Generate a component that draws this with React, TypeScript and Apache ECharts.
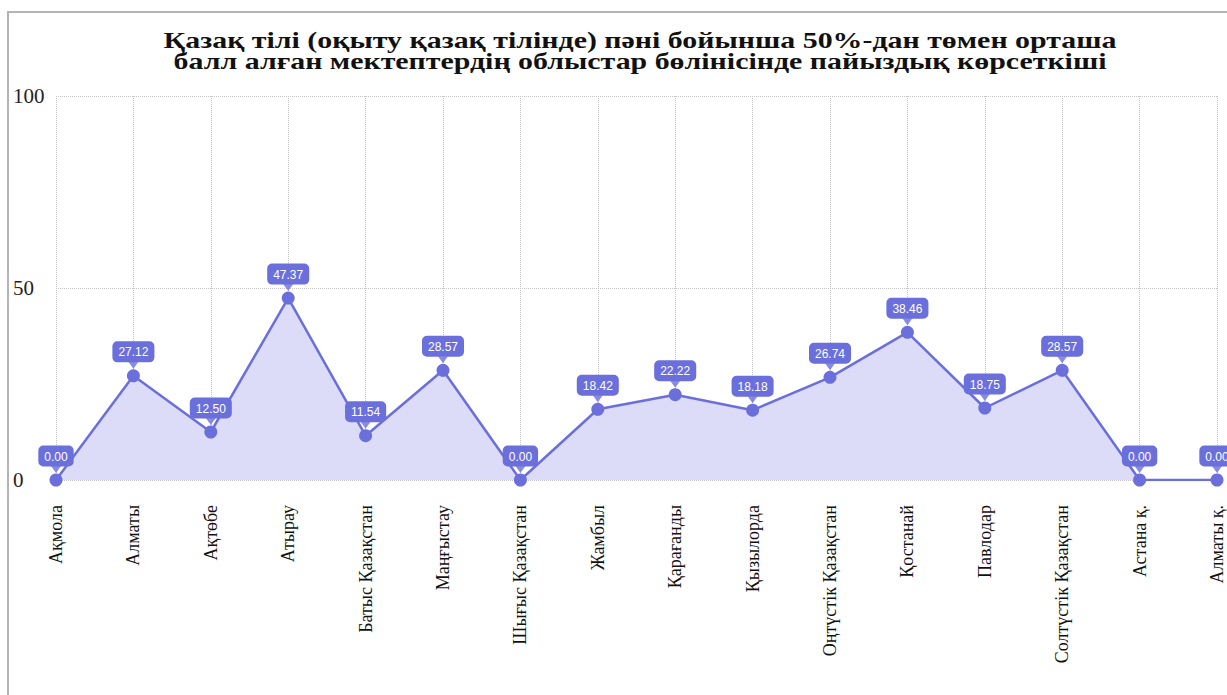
import React, { useEffect, useRef } from "react";
import * as echarts from "echarts";

const titleLines = [
  "Қазақ тілі (оқыту қазақ тілінде) пәні бойынша 50%-дан төмен орташа",
  "балл алған мектептердің облыстар бөлінісінде пайыздық көрсеткіші",
];
const categories = [
  "Ақмола",
  "Алматы",
  "Ақтөбе",
  "Атырау",
  "Батыс Қазақстан",
  "Маңғыстау",
  "Шығыс Қазақстан",
  "Жамбыл",
  "Қарағанды",
  "Қызылорда",
  "Оңтүстік Қазақстан",
  "Қостанай",
  "Павлодар",
  "Солтүстік Қазақстан",
  "Астана қ.",
  "Алматы қ.",
];
const values = [0, 27.12, 12.5, 47.37, 11.54, 28.57, 0, 18.42, 22.22, 18.18, 26.74, 38.46, 18.75, 28.57, 0, 0];
const yTicks = { min: 0, max: 100, interval: 50 };

const PURPLE = "#6b6fdc";
const SERIF = "'Liberation Serif', 'DejaVu Serif', serif";

export default function App() {
  const ref = useRef<HTMLDivElement>(null);
  useEffect(() => {
    document.body.style.margin = "0";
    document.body.style.overflow = "hidden";
    const chart = echarts.init(ref.current!, null, { renderer: "svg" });
    chart.setOption({
      animation: false,
      backgroundColor: "#ffffff",
      graphic: [
        {
          type: "rect",
          shape: { x: 8, y: 12, width: 1240, height: 700 },
          style: { fill: "none", stroke: "#b4b4b4", lineWidth: 2 },
          silent: true,
        },
        {
          type: "text",
          x: 640,
          y: 30,
          scaleX: 1.3,
          silent: true,
          style: {
            text: titleLines.join("\n"),
            align: "center",
            verticalAlign: "top",
            font: "bold 23px 'Liberation Serif', 'DejaVu Serif', serif",
            lineHeight: 21,
            fill: "#111",
          },
        },
      ],
      grid: { left: 56, right: 10, top: 96, bottom: 215, containLabel: false },
      xAxis: {
        type: "category",
        data: categories,
        boundaryGap: false,
        axisLine: { show: false },
        axisTick: { show: false },
        axisLabel: {
          rotate: 90,
          interval: 0,
          margin: 25,
          fontFamily: SERIF,
          fontSize: 18,
          color: "#111",
        },
        splitLine: { show: true, lineStyle: { type: "dotted", color: "#c4c4c4", width: 1 } },
      },
      yAxis: {
        type: "value",
        min: yTicks.min,
        max: yTicks.max,
        interval: yTicks.interval,
        axisLine: { show: false },
        axisTick: { show: false },
        axisLabel: {
          margin: 43,
          align: "left",
          fontFamily: SERIF,
          fontSize: 21,
          color: "#222",
        },
        splitLine: { show: true, lineStyle: { type: "dotted", color: "#c4c4c4", width: 1 } },
      },
      series: [
        {
          type: "line",
          data: values,
          symbol: "circle",
          symbolSize: 13,
          itemStyle: { color: PURPLE },
          lineStyle: { color: PURPLE, width: 2.5 },
          areaStyle: { color: "#dddcf8", opacity: 1 },
          z: 2,
          label: {
            show: true,
            position: "top",
            distance: 7,
            formatter: (p: any) => Number(p.value).toFixed(2),
            backgroundColor: PURPLE,
            borderRadius: 5,
            padding: [5, 6, 4, 6],
            lineHeight: 12,
            color: "#ffffff",
            fontFamily: "'Liberation Sans', Arial, sans-serif",
            fontSize: 12,
          },
        },
        {
          type: "scatter",
          data: values,
          symbol: "triangle",
          symbolRotate: 180,
          symbolSize: [10, 7],
          symbolOffset: [0, -10.5],
          itemStyle: { color: PURPLE },
          silent: true,
          z: 3,
        },
      ],
    });
    return () => chart.dispose();
  }, []);
  return (
    <div
      ref={ref}
      style={{ position: "absolute", left: 0, top: 0, width: 1227, height: 695 }}
    />
  );
}
